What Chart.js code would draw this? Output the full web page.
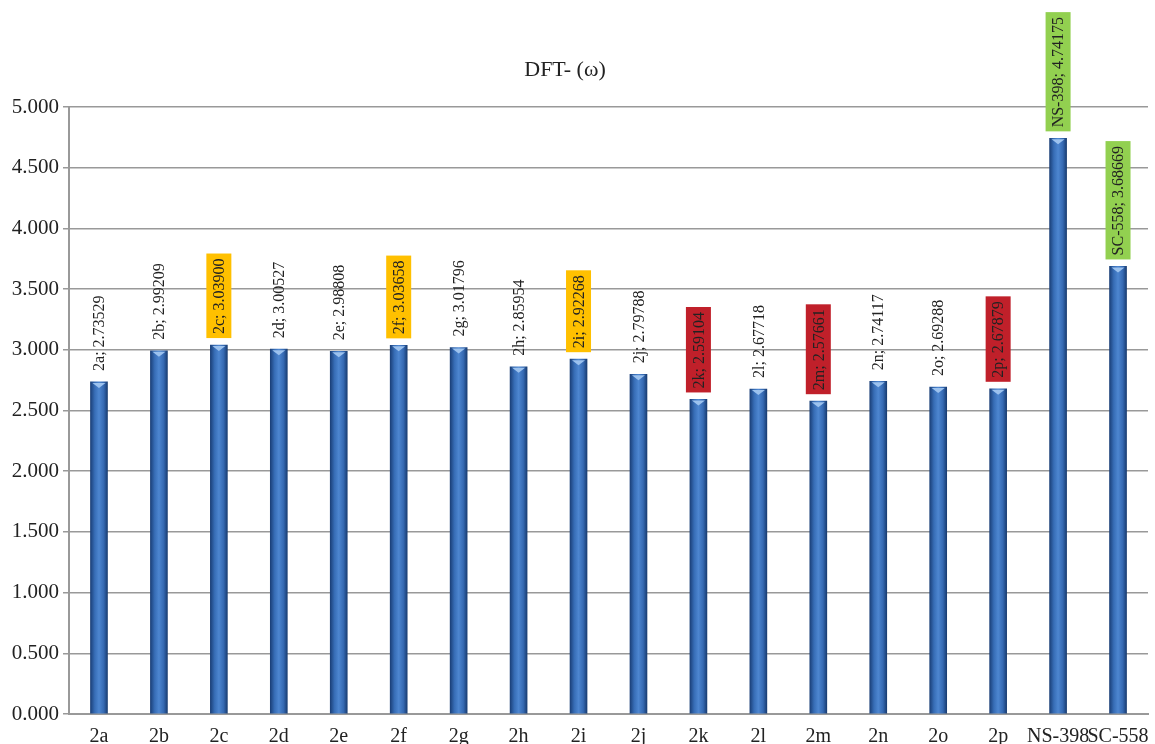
<!DOCTYPE html>
<html>
<head>
<meta charset="utf-8">
<script src="https://cdn.jsdelivr.net/npm/chart.js@4/dist/chart.umd.min.js"></script>
<style>
  html, body { margin: 0; padding: 0; background: #fff; }
  #wrap { width: 1155px; height: 744px; }
</style>
</head>
<body>
<div id="wrap"><canvas id="chart"></canvas></div>
<script>
const compounds = ['2a', '2b', '2c', '2d', '2e', '2f', '2g', '2h', '2i', '2j', '2k', '2l', '2m', '2n', '2o', '2p', 'NS-398', 'SC-558'];
const omega = [2.73529, 2.99209, 3.03900, 3.00527, 2.98808, 3.03658, 3.01796, 2.85954, 2.92268, 2.79788,
               2.59104, 2.67718, 2.57661, 2.74117, 2.69288, 2.67879, 4.74175, 3.68669];
const yTicks = [0, 0.5, 1, 1.5, 2, 2.5, 3, 3.5, 4, 4.5, 5];

// label box colours for the flagged compounds
const boxColors = {
  '2c': '#FFC000', '2f': '#FFC000', '2i': '#FFC000',
  '2k': '#C0202A', '2m': '#C0202A', '2p': '#C0202A',
  'NS-398': '#92D050', 'SC-558': '#92D050'
};

const SERIF = '"Liberation Serif", "Times New Roman", serif';
const BAR_W = 17;

// cylinder-like shading across each bar
function barFill(c) {
  const chart = c.chart;
  if (!chart.chartArea || !chart.scales.x) return '#3a6fb8';
  const x = chart.scales.x.getPixelForValue(c.dataIndex);
  const g = chart.ctx.createLinearGradient(x - BAR_W / 2, 0, x + BAR_W / 2, 0);
  g.addColorStop(0, '#1b4079');
  g.addColorStop(0.25, '#376db6');
  g.addColorStop(0.5, '#4d86d0');
  g.addColorStop(0.78, '#3569b2');
  g.addColorStop(1, '#193d72');
  return g;
}

const titlePlugin = {
  id: 'plainTitle',
  afterDraw(chart) {
    const c = chart.ctx;
    c.save();
    c.font = '22px ' + SERIF;
    c.fillStyle = '#222';
    c.textAlign = 'center';
    c.textBaseline = 'middle';
    c.fillText('DFT- (\u03C9)', 565, 70);
    c.restore();
  }
};

const barLabels = {
  id: 'barLabels',
  afterDatasetsDraw(chart) {
    const c = chart.ctx;
    const meta = chart.getDatasetMeta(0);
    c.save();
    meta.data.forEach((bar, i) => {
      // light cap at the top of each bar
      c.fillStyle = '#9cc2ee';
      c.beginPath();
      c.moveTo(bar.x - BAR_W / 2 + 2, bar.y + 1);
      c.lineTo(bar.x + BAR_W / 2 - 2, bar.y + 1);
      c.lineTo(bar.x, bar.y + 6);
      c.closePath();
      c.fill();

      const text = compounds[i] + '; ' + omega[i].toFixed(5);
      c.save();
      c.translate(bar.x, bar.y - 11);
      c.rotate(-Math.PI / 2);
      c.font = '16px ' + SERIF;
      c.textAlign = 'left';
      c.textBaseline = 'middle';
      const w = c.measureText(text).width;
      const box = boxColors[compounds[i]];
      if (box) {
        c.fillStyle = box;
        c.fillRect(-4, -12.5, w + 9, 25);
      }
      c.fillStyle = '#222';
      c.fillText(text, 0, 1);
      c.restore();
    });
    c.restore();
  }
};

new Chart(document.getElementById('chart'), {
  type: 'bar',
  data: {
    labels: compounds,
    datasets: [{
      data: omega,
      backgroundColor: barFill,
      borderWidth: 0,
      barThickness: BAR_W
    }]
  },
  options: {
    responsive: true,
    maintainAspectRatio: false,
    animation: false,
    layout: { padding: { top: 107, right: 7, bottom: 0, left: 0 } },
    plugins: {
      legend: { display: false },
      title: { display: false },
      tooltip: { enabled: false }
    },
    scales: {
      x: {
        afterFit: s => { s.height = 30; },
        grid: { display: false },
        border: { color: '#999', width: 2 },
        ticks: {
          color: '#222',
          font: { family: SERIF, size: 20 },
          padding: 3,
          maxRotation: 0,
          autoSkip: false
        }
      },
      y: {
        min: 0,
        max: 5,
        afterFit: s => { s.width = 69; },
        afterBuildTicks: s => { s.ticks = yTicks.map(v => ({ value: v })); },
        grid: { color: '#999', lineWidth: 1.5, tickLength: 6 },
        border: { color: '#999', width: 2 },
        ticks: {
          color: '#222',
          font: { family: SERIF, size: 21 },
          padding: 4,
          callback: v => v.toFixed(3)
        }
      }
    }
  },
  plugins: [titlePlugin, barLabels]
});
</script>
</body>
</html>
